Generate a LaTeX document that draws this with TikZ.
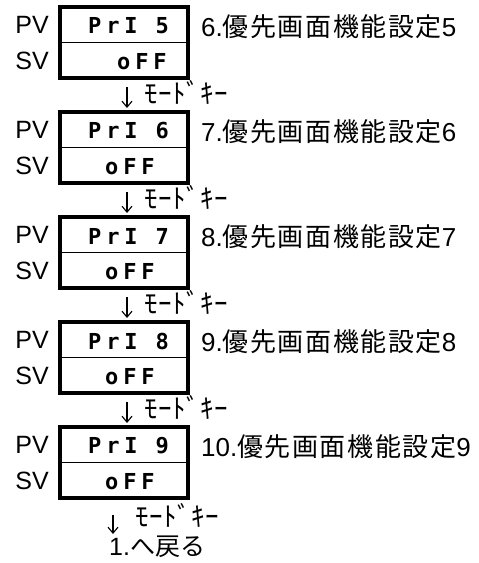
\documentclass[tikz,border=0pt]{standalone}
\usepackage{fontspec}
\setmainfont{Liberation Sans}
\newfontfamily\jp{Noto Sans CJK JP}
\newfontfamily\jpls{Noto Sans CJK JP}[LetterSpace=6]
\newfontfamily\jpthin{Noto Sans CJK JP}[LetterSpace=2]
\newfontfamily\seg{DejaVu Sans Mono}[LetterSpace=22]
\usetikzlibrary{arrows.meta,calc}
\tikzset{
  panel/.style={draw, line width=3.3pt, minimum width=128pt, minimum height=71pt, inner sep=0pt},
  divider/.style={line width=1.7pt},
  side/.style={font=\fontsize{25}{28}\selectfont, inner sep=0pt},
  desc/.style={font=\fontsize{26}{30}\selectfont, anchor=west, inner sep=0pt},
  backtxt/.style={font=\fontsize{25}{28}\selectfont, anchor=west, inner sep=0pt},
  segtxt/.style={font=\fontsize{22}{24}\selectfont\seg\bfseries, anchor=west, inner sep=0pt},
  modekey/.style={font=\fontsize{27}{28}\selectfont\jpthin, anchor=west, inner sep=0pt},
  downarrow/.style={line width=1.1pt, -{Straight Barb[length=6pt,width=10pt,line width=1.1pt]}},
}
\begin{document}
\begin{tikzpicture}[x=1pt,y=-1pt]
\useasboundingbox (0,0) rectangle (479,563);
\foreach \i/\d/\n/\ox in {0/5/6/117,1/6/7/105,2/7/8/105,3/8/9/105,4/9/10/105}{
  \pgfmathsetmacro{\t}{7+105*\i}
  \node[panel] (b\i) at (124,\t+35.5) {};
  \draw[divider] (b\i.west) -- (b\i.east);
  \node[side] (pv\i) at (32,\t+18) {PV};
  \node[side] (sv\i) at (32,\t+54) {SV};
  \node[segtxt] (p\i) at (88,\t+19) {PrI \d};
  \node[segtxt] (o\i) at (\ox,\t+55) {oFF};
  \node[desc] (d\i) at (201,\t+20) {\n.{\jpls 優先画面機能設定}\d};
}
\foreach \i in {0,1,2,3}{
  \pgfmathsetmacro{\t}{7+105*\i}
  \coordinate (as\i) at (127,\t+80);
  \coordinate (ae\i) at (127,\t+101);
  \draw[downarrow] (as\i) -- (ae\i);
  \node[modekey] (k\i) at (144,\t+86) {ﾓｰﾄﾞｷｰ};
}
\coordinate (as4) at (113,515);
\coordinate (ae4) at (113,534);
\draw[downarrow] (as4) -- (ae4);
\node[modekey] (k4) at (135,516) {ﾓｰﾄﾞｷｰ};
\node[backtxt] (back) at (109,547) {1.{\jp へ戻る}};
\end{tikzpicture}
\end{document}
